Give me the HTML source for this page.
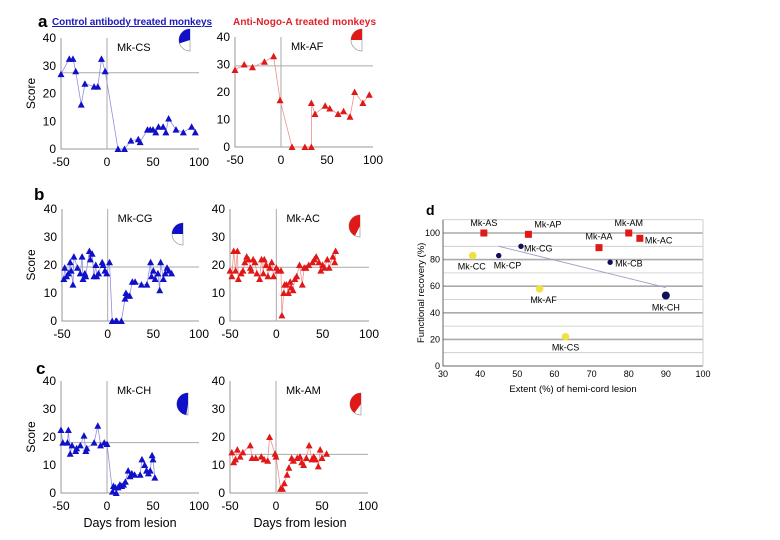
<!DOCTYPE html>
<html><head><meta charset="utf-8"><style>
html,body{margin:0;padding:0;background:#fff}
svg{display:block;font-family:"Liberation Sans",Arial,sans-serif}
</style></head><body>
<svg id="fig" width="780" height="540" viewBox="0 0 780 540">
<g>
<text x="38" y="27" font-size="17" font-weight="bold">a</text>
<text x="52" y="25" font-size="10" font-weight="bold" fill="#1a1ab8" text-decoration="underline" textLength="160">Control antibody treated monkeys</text>
<text x="233" y="25" font-size="10" font-weight="bold" fill="#e0202a" textLength="143">Anti-Nogo-A treated monkeys</text>
</g>
<text x="34" y="200" font-size="17" font-weight="bold">b</text>
<text x="36" y="374" font-size="17" font-weight="bold">c</text>
<text x="426" y="215" font-size="14" font-weight="bold">d</text>
</svg>
<script>
// ---- time-course data (days from lesion, score) ----
const csDays=[-50,-41,-37,-34,-28,-24,-14,-10,-6,-2,12,19,26,34,36,44,47,50,53,56,61,64,67,75,83,92,96];
const csScore=[27,32.5,32.5,28,16,23.5,22.5,22.5,32.5,28,0,0,3,3.5,2.5,7,7,7,6,8,8,6,11,7,6,8,6];
const afDays=[-50,-40,-31,-18,-8,-1,12,26,33,33,37,48,53,62,68,75,80,89,96];
const afScore=[28,30,29,31,33,17,0,0,0,16,12,15,14,12,13,11,20,16,19];
const cgDays=[-48,-47,-45,-43,-41,-40,-38,-37,-33,-30,-28,-27,-25,-24,-20,-19,-17,-15,-13,-12,-10,-6,-5,-3,-1,2,5,9,10,15,19,20,22,24,27,30,37,43,47,48,50,52,55,57,58,61,63,65,67,70];
const cgScore=[15,19,16,17,21,18,13,23,19,17,23,15,17,16,25,22,24,16,20,16,17,21,20,18,17,21,0,0,0,0,8,10,9,9,14,14,13,13,21,16,18,15,17,11,21,15,17,19,18,17];
const acDays=[-50,-48,-46,-44,-42,-41,-38,-36,-34,-32,-30,-28,-27,-25,-23,-21,-18,-16,-14,-13,-11,-9,-7,-5,-3,0,2,5,6,8,9,11,13,15,16,18,20,22,25,28,30,32,35,39,41,43,46,48,50,52,55,57,61,63,64];
const acScore=[18,16,25,18,25,15,17,18,21,23,22,19,18,22,21,17,15,22,17,22,20,16,19,21,16,19,18,18,2,10,13,13,10,14,12,11,15,16,20,13,19,19,20,21,22,23,21,18,20,19,22,19,23,21,25];
const chDays=[-50,-48,-43,-42,-40,-38,-34,-33,-29,-25,-23,-22,-14,-10,-7,-3,0,6,7,9,10,12,14,16,18,20,23,25,27,30,36,38,41,43,45,47,49,50,52];
const chScore=[22.5,18,18,22.5,14,17,15,16,17,20.5,15,16,18,24,17,18,17.5,0.5,2.5,2,0,2,3,2.5,3,4,8,6,7,6.5,6.5,12,10,8,7,8,13.5,12,5.5];
const amDays=[-48,-46,-44,-42,-39,-36,-28,-26,-22,-16,-13,-9,-7,-1,0,5,7,9,12,14,17,19,23,26,28,30,33,36,39,41,43,46,48,50,55];
const amScore=[14.5,11,12,15.5,13,14.5,17,12.5,12.5,13,12,11.5,20,14,13,1.5,1.5,3.5,6.5,9,12.5,11.5,12.5,13,11,10,12.5,17,12,13,12,9.5,15.5,12.5,14];
const xTicks=[-50,0,50,100];
const yTicks=[0,10,20,30,40];
// ---- recovery vs lesion extent data ----
const dNames=['Mk-AS','Mk-AP','Mk-AA','Mk-AM','Mk-AC','Mk-CP','Mk-CG','Mk-CB','Mk-CH','Mk-CC','Mk-AF','Mk-CS'];
const dExtent=[41,53,72,80,83,45,51,75,90,38,56,63];
const dRecovery=[100,99,89,100,96,83,90,78,53,83,58,22];
const dGroup=['sq','sq','sq','sq','sq','dot','dot','dot','big','yel','yel','yel'];
const dXTicks=[30,40,50,60,70,80,90,100];
const dYTicks=[0,20,40,60,80,100];
const trendX=[45,90];
const trendY=[90,59];

const NS='http://www.w3.org/2000/svg';
const svg=document.getElementById('fig');
function mk(tag,attrs,parent){const e=document.createElementNS(NS,tag);for(const k in attrs)e.setAttribute(k,attrs[k]);(parent||svg).appendChild(e);return e;}

const panels=[
 {days:csDays,score:csScore,base:27.5,name:'Mk-CS',col:'#1010c8',line:'#8f8fe0',x0:61,x1:199,y0:149,y1:38,yl:true,pie:[190,40,0.6],id:'cs'},
 {days:afDays,score:afScore,base:29.5,name:'Mk-AF',col:'#e01818',line:'#f09090',x0:235,x1:373,y0:147,y1:37,yl:false,pie:[362,40,0.5],id:'af'},
 {days:cgDays,score:cgScore,base:19.3,name:'Mk-CG',col:'#1010c8',line:'#8f8fe0',x0:62,x1:199,y0:321,y1:209,yl:true,pie:[183,234,0.5],id:'cg'},
 {days:acDays,score:acScore,base:19.2,name:'Mk-AC',col:'#e01818',line:'#f09090',x0:230,x1:369,y0:321,y1:209,yl:false,pie:[360,226,0.85],id:'ac'},
 {days:chDays,score:chScore,base:18,name:'Mk-CH',col:'#1010c8',line:'#8f8fe0',x0:61,x1:199,y0:493,y1:381,yl:true,pie:[188,404,0.95],id:'ch'},
 {days:amDays,score:amScore,base:13.8,name:'Mk-AM',col:'#e01818',line:'#f09090',x0:230,x1:368,y0:493,y1:381,yl:false,pie:[361,404,0.8],id:'am'}
];
panels.forEach((p,pi)=>{
 const g=mk('g',{});
 
 
 const sx=d=>p.x0+(d+50)/150*(p.x1-p.x0);
 const sy=v=>p.y0+v/40*(p.y1-p.y0);
 const ax=mk('path',{d:`M${p.x0} ${sy(40)}V${p.y0}H${p.x1}`,stroke:'#999',fill:'none','stroke-width':1},g);
 
 const zl=mk('line',{x1:sx(0),x2:sx(0),y1:sy(40),y2:p.y0,stroke:'#aaa','stroke-width':1},g);
 
 const bl=mk('line',{x1:p.x0,x2:p.x1,y1:sy(p.base),y2:sy(p.base),stroke:'#aaa','stroke-width':1},g);
 
 xTicks.forEach(t=>{const e=mk('text',{x:sx(t),y:p.y0+17,'font-size':12,'text-anchor':'middle'},g);e.textContent=t;
  });
 yTicks.forEach(t=>{const e=mk('text',{x:p.x0-5,y:sy(t)+4,'font-size':12,'text-anchor':'end'},g);e.textContent=t;
  });
 if(p.yl){const e=mk('text',{x:0,y:0,'font-size':12,'text-anchor':'middle',transform:`translate(35 ${(p.y0+sy(40))/2}) rotate(-90)`},g);e.textContent='Score';
  }
 const nm=mk('text',{x:sx(0)+10,y:sy(40)+13,'font-size':11},g);nm.textContent=p.name;
 
 let d='';p.days.forEach((x,i)=>{d+=(i?'L':'M')+sx(x).toFixed(1)+' '+sy(p.score[i]).toFixed(1);});
 const ln=mk('path',{d:d,stroke:p.line,fill:'none','stroke-width':0.8},g);
 
 p.days.forEach((x,i)=>{const cx=sx(x),cy=sy(p.score[i]);
  const t=mk('path',{d:`M${cx-3.5} ${cy+3}L${cx+3.5} ${cy+3}L${cx} ${cy-3.5}Z`,fill:p.col},g);
  });
 const [px,py,f]=p.pie;const r=11;
 const pg=mk('g',{},g);
 mk('path',{d:`M${px} ${py-r}A${r} ${r} 0 0 0 ${px} ${py+r}Z`,fill:'#fff',stroke:'#999','stroke-width':0.7},pg);
 const a=Math.PI*f;const ex=px-r*Math.sin(a),ey=py-r*Math.cos(a);
 mk('path',{d:`M${px} ${py}L${px} ${py-r}A${r} ${r} 0 0 0 ${ex.toFixed(1)} ${ey.toFixed(1)}Z`,fill:p.col},pg);
});
[130,300].forEach((cx,i)=>{const e=mk('text',{x:cx,y:527,'font-size':12.5,'text-anchor':'middle'});e.textContent='Days from lesion';
 });

// panel d
const dg=mk('g',{});
const dx=v=>443+(v-30)/70*260;
const dy=v=>366-v/100*133;
for(let v=10;v<=110;v+=10){const l=mk('line',{x1:dx(30),x2:dx(100),y1:dy(v),y2:dy(v),stroke:(v%20==0)?'#aaa':'#c8c8c8','stroke-width':(v%20==0)?1.6:0.8},dg);
 }
const dax=mk('path',{d:`M${dx(30)} ${dy(110)}V${dy(0)}H${dx(100)}`,stroke:'#666',fill:'none','stroke-width':1},dg);

const rb=mk('line',{x1:dx(100),x2:dx(100),y1:dy(110),y2:dy(0),stroke:'#ccc'},dg);

dXTicks.forEach(t=>{const e=mk('text',{x:dx(t),y:dy(0)+11,'font-size':9,'text-anchor':'middle'},dg);e.textContent=t;
 });
dYTicks.forEach(t=>{const e=mk('text',{x:dx(30)-3,y:dy(t)+3,'font-size':9,'text-anchor':'end'},dg);e.textContent=t;
 });
const dxt=mk('text',{x:dx(65),y:392,'font-size':9.5,'text-anchor':'middle'},dg);dxt.textContent='Extent (%) of hemi-cord lesion';

const dyt=mk('text',{x:0,y:0,'font-size':9.5,'text-anchor':'middle',transform:`translate(424 ${dy(55)}) rotate(-90)`},dg);dyt.textContent='Functional recovery (%)';

const tr=mk('line',{x1:dx(trendX[0]),y1:dy(trendY[0]),x2:dx(trendX[1]),y2:dy(trendY[1]),stroke:'#9a9ac8','stroke-width':0.9},dg);

const lblOff={'Mk-AS':[0,-7,'middle'],'Mk-AP':[6,-7,'start'],'Mk-AA':[0,-8,'middle'],'Mk-AM':[0,-7,'middle'],'Mk-AC':[5,5,'start'],'Mk-CP':[-5,13,'start'],'Mk-CG':[3,5,'start'],'Mk-CB':[5,4,'start'],'Mk-CH':[0,15,'middle'],'Mk-CC':[-1,14,'middle'],'Mk-AF':[4,14,'middle'],'Mk-CS':[0,14,'middle']};
dNames.forEach((n,i)=>{const cx=dx(dExtent[i]),cy=dy(dRecovery[i]);const gr=dGroup[i];let m;
 if(gr=='sq')m=mk('rect',{x:cx-3.5,y:cy-3.5,width:7,height:7,fill:'#e01818'},dg);
 else if(gr=='dot')m=mk('circle',{cx:cx,cy:cy,r:2.7,fill:'#10105a'},dg);
 else if(gr=='big')m=mk('circle',{cx:cx,cy:cy,r:4,fill:'#10105a'},dg);
 else m=mk('circle',{cx:cx,cy:cy,r:3.8,fill:'#f0e040'},dg);
 
 const o=lblOff[n];const t=mk('text',{x:cx+o[0],y:cy+o[1],'font-size':9,'text-anchor':o[2]},dg);t.textContent=n;
 });
</script>
</body></html>
